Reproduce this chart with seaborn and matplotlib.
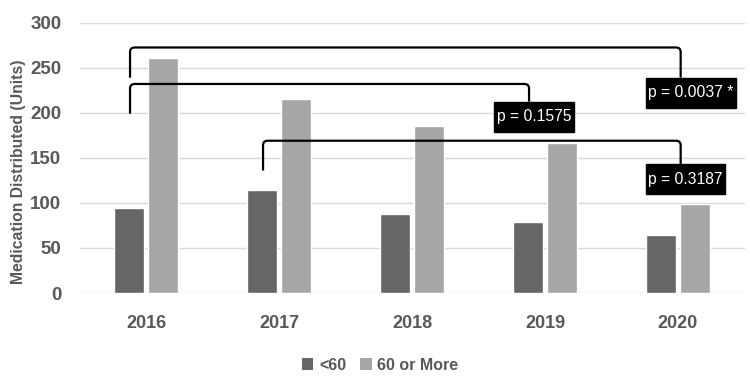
import matplotlib
matplotlib.use("Agg")
import matplotlib.pyplot as plt
from matplotlib.path import Path
from matplotlib.patches import PathPatch, Rectangle, Patch
import seaborn as sns
import pandas as pd

# ---- data ----
years = ["2016", "2017", "2018", "2019", "2020"]
under_60 = [94, 114, 88, 79, 64]
sixty_plus = [261, 215, 185, 167, 99]
groups = ["<60", "60 or More"]
y_ticks = [0, 50, 100, 150, 200, 250, 300]

# significance brackets (category positions, heights, labels)
br_left_x = [-0.12, -0.12, 0.88]
br_right_x = [4.02, 2.88, 4.02]
br_top_y = [272.5, 232, 169]
br_left_bottom = [239, 199, 136]
br_right_bottom = [239, 212.4, 142.7]
br_labels = ["p = 0.0037 *", "p = 0.1575", "p = 0.3187"]

df = pd.DataFrame({
    "year": years * 2,
    "value": under_60 + sixty_plus,
    "group": [groups[0]] * len(years) + [groups[1]] * len(years),
})

sns.set_theme(style="white")
plt.rcParams["font.family"] = ["Liberation Sans", "DejaVu Sans"]
text_color = "#595959"
dark = "#666666"
light = "#a6a6a6"

fig = plt.figure(figsize=(7.5, 3.86), dpi=100)
ax = fig.add_axes([79.5 / 750, 1 - 293 / 386, 665 / 750, (293 - 22.7) / 386])

sns.barplot(data=df, x="year", y="value", hue="group", palette=[dark, light],
            width=0.512, gap=0.12, ax=ax, legend=False, saturation=1)

ax.set_ylim(0, 300)
ax.set_xlim(-0.5, 4.5)
ax.set_yticks(y_ticks)
ax.yaxis.grid(True, color="#d9d9d9", linewidth=1)
ax.set_axisbelow(True)
for s in ax.spines.values():
    s.set_visible(False)
ax.tick_params(axis="both", length=0, colors=text_color)
ax.tick_params(axis="y", pad=13, labelsize=13.5)
ax.tick_params(axis="x", pad=16, labelsize=13)
for lab in ax.get_xticklabels() + ax.get_yticklabels():
    lab.set_fontweight("bold")
ax.set_xlabel("")
ax.set_ylabel("Medication Distributed (Units)", color=text_color, fontsize=11.3,
              fontweight="bold")
ax.yaxis.set_label_coords(-0.08, 0.45)

# brackets with rounded corners
rx, ry = 0.035, 5.0
px_x = 665 / 5.0          # pixels per category unit
px_y = (293 - 22.7) / 300  # pixels per value unit
box_h = 30 / px_y
fig.canvas.draw()
renderer = fig.canvas.get_renderer()
for xl, xr, yt, yl, yr, lab in zip(br_left_x, br_right_x, br_top_y,
                                   br_left_bottom, br_right_bottom, br_labels):
    verts = [(xl, yl), (xl, yt - ry), (xl, yt), (xl + rx, yt),
             (xr - rx, yt), (xr, yt), (xr, yt - ry), (xr, yr)]
    codes = [Path.MOVETO, Path.LINETO, Path.CURVE3, Path.CURVE3,
             Path.LINETO, Path.CURVE3, Path.CURVE3, Path.LINETO]
    ax.add_patch(PathPatch(Path(verts, codes), fill=False, edgecolor="black",
                           linewidth=1.6, clip_on=False, zorder=5))
    x0 = xr - 35 / px_x
    t = ax.text(x0 + 2.5 / px_x, yr - box_h / 2, lab, ha="left", va="center",
                color="white", fontsize=11.3, zorder=7)
    w = t.get_window_extent(renderer).width / px_x + 5 / px_x
    ax.add_patch(Rectangle((x0, yr - box_h), w, box_h, facecolor="black",
                           edgecolor="black", clip_on=False, zorder=6))

# legend
handles = [Patch(facecolor=dark, edgecolor="none"),
           Patch(facecolor=light, edgecolor="none")]
leg = fig.legend(handles, groups, loc="center", bbox_to_anchor=(0.507, 1 - 365 / 386),
                 ncol=2, frameon=False, handlelength=0.7, handleheight=0.7,
                 handletextpad=0.35, columnspacing=0.9,
                 prop={"weight": "bold", "size": 11.5})
for t in leg.get_texts():
    t.set_color(text_color)

fig.savefig("out.png", dpi=100)
